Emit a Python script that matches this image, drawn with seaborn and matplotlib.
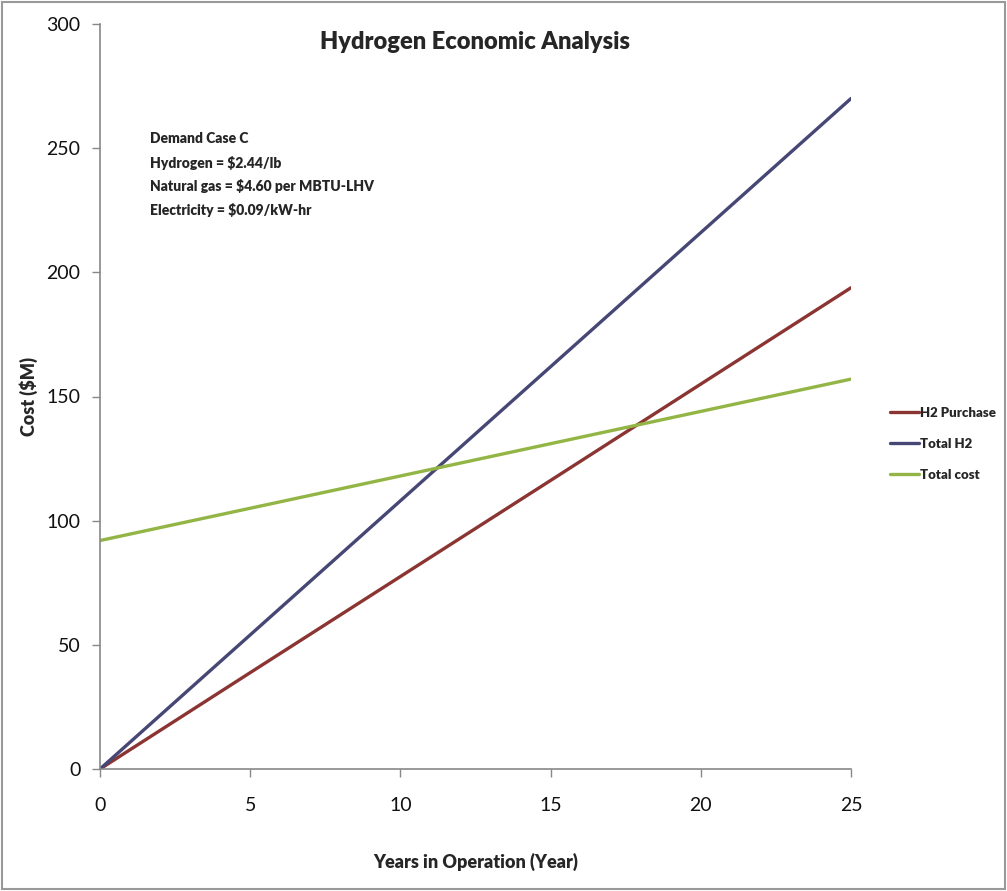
import matplotlib
matplotlib.use("Agg")
import matplotlib.pyplot as plt
import seaborn as sns
import pandas as pd
from matplotlib.patches import Rectangle
from matplotlib.lines import Line2D

years = [0, 5, 10, 15, 20, 25]
h2_purchase = [0, 38.8, 77.5, 116.2, 155.0, 193.8]
total_h2 = [0, 54.0, 108.0, 162.0, 216.0, 270.0]
total_cost = [92.0, 105.0, 118.0, 131.0, 144.0, 157.0]
series_names = ["H2 Purchase", "Total H2", "Total cost"]
colors = ["#8B3532", "#474775", "#93B545"]
title = "Hydrogen Economic Analysis"
xlabel = "Years in Operation (Year)"
ylabel = "Cost ($M)"
notes = ["Demand Case C", "Hydrogen = $2.44/lb",
         "Natural gas = $4.60 per MBTU-LHV", "Electricity = $0.09/kW-hr"]

df = pd.DataFrame({
    "Year": years * 3,
    "Cost": h2_purchase + total_h2 + total_cost,
    "Series": [series_names[0]] * len(years) + [series_names[1]] * len(years)
              + [series_names[2]] * len(years),
})

sns.set_style("white")
plt.rcParams["font.family"] = ["Lato", "DejaVu Sans"]

fig = plt.figure(figsize=(10.07, 8.91), dpi=100)
ax = fig.add_axes([100 / 1007, 1 - 769 / 891, 751 / 1007, 745 / 891])

sns.lineplot(data=df, x="Year", y="Cost", hue="Series", hue_order=series_names,
             palette=colors, linewidth=2.4, ax=ax, legend=False)

ax.set_xlim(0, 25)
ax.set_ylim(0, 300)
ax.set_xticks([0, 5, 10, 15, 20, 25])
ax.set_yticks([0, 50, 100, 150, 200, 250, 300])
ax.tick_params(axis="both", direction="out", length=6, width=1, color="#888888",
               labelsize=14, pad=8, left=True, bottom=True, labelcolor="#111111")
ax.tick_params(axis="x", pad=14)
for s in ["top", "right"]:
    ax.spines[s].set_visible(False)
for s in ["left", "bottom"]:
    ax.spines[s].set_color("#888888")
    ax.spines[s].set_linewidth(1.2)

ax.set_xlabel(xlabel, fontsize=13, fontweight="heavy", labelpad=28)
ax.set_ylabel(ylabel, fontsize=13, fontweight="heavy", labelpad=6)
ax.set_title(title, fontsize=17, fontweight="heavy", pad=-2, y=0.97)

for i, t in enumerate(notes):
    ax.text(0.067, 0.846 - i * 0.032, t, transform=ax.transAxes, fontsize=10,
            fontweight="heavy", va="center", ha="left")

handles = [Line2D([], [], color=c, linewidth=2.4) for c in colors]
fig.legend(handles, series_names, loc="center left", bbox_to_anchor=(0.872, 0.502),
           frameon=False, handlelength=2.2, handletextpad=0.1, labelspacing=1.45,
           prop={"weight": "heavy", "size": 9.5})

fig.patches.append(Rectangle((0.002, 0.002), 0.996, 0.996, transform=fig.transFigure,
                             fill=False, edgecolor="#999999", linewidth=1.5))

fig.savefig("out.png", dpi=100)
